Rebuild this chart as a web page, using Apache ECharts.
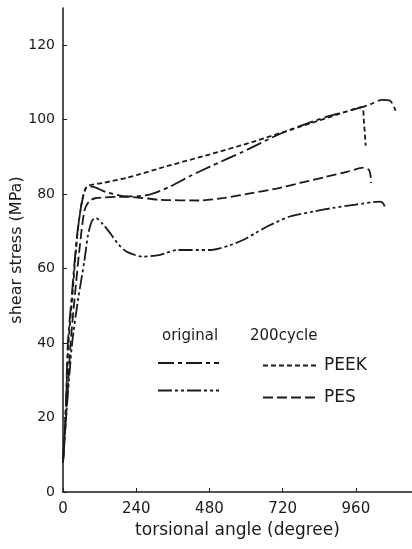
<!DOCTYPE html>
<html>
<head>
<meta charset="utf-8">
<style>
  html, body { margin: 0; padding: 0; background: #fff; }
  #chart { width: 412px; height: 549px; }
</style>
<script src="https://cdn.jsdelivr.net/npm/echarts@6/dist/echarts.min.js"></script>
</head>
<body>
<div id="chart"></div>
<script>
// torsional angle (degree), shear stress (MPa)
const origPEEK = [[0,8],[8,20],[16,40],[28,52],[45,68],[60,77],[75,81.5],[95,82],[140,80.6],[210,79.4],[280,79.8],[350,82],[420,85],[482,87.4],[590,91.4],[720,96.5],[865,100.8],[930,102.2],[1000,103.9],[1046,105.3],[1072,105.1],[1085,103.5],[1090,102.3]];
const origPES = [[0,8],[10,20],[30,40],[50,52],[70,62],[82,69],[95,72.8],[108,73.6],[130,72],[154,69.6],[182,66.5],[210,64.5],[262,63.2],[318,63.7],[374,65],[482,65],[545,66.2],[590,67.7],[630,69.5],[669,71.3],[744,74],[820,75.3],[885,76.3],[960,77.2],[1039,78],[1050,77.5],[1056,76.3]];
const cycPEEK = [[0,8],[8,20],[18,40],[30,52],[48,70],[62,78],[78,82],[130,83],[210,84.4],[340,87.5],[482,90.7],[620,94],[777,98.1],[930,102.2],[980,103.4],[986,100],[992,93]];
const cycPES = [[0,8],[10,20],[25,40],[38,52],[55,66],[70,75.5],[85,78],[105,78.9],[210,79.3],[318,78.5],[449,78.3],[530,79],[613,80.2],[700,81.5],[777,83],[860,84.6],[931,86],[985,87.1],[1003,86.5],[1008,85],[1010,83]];

const xTicks = [0, 240, 480, 720, 960];
const yTicks = [0, 20, 40, 60, 80, 100, 120];

const FONT = 'DejaVu Sans';
const INK = '#1a1a1a';

function lineSeries(name, data, dash) {
    return {
        name: name,
        type: 'line',
        data: data,
        smooth: 0.25,
        symbol: 'none',
        lineStyle: { color: INK, width: 1.8, type: dash },
        itemStyle: { color: INK }
    };
}

const chart = echarts.init(document.getElementById('chart'));

chart.setOption({
    backgroundColor: '#fff',
    animation: false,
    grid: { left: 63, right: 0, top: 8, bottom: 57, outerBoundsMode: 'none', containLabel: false },
    xAxis: {
        type: 'value',
        min: 0,
        max: 1144,
        name: 'torsional angle (degree)',
        nameLocation: 'middle',
        nameGap: 26,
        nameTextStyle: { fontFamily: FONT, fontSize: 17, color: INK },
        axisLine: { lineStyle: { color: INK, width: 1.5 } },
        axisTick: { inside: true, length: 4, customValues: xTicks, lineStyle: { color: INK } },
        axisLabel: { customValues: xTicks, fontFamily: FONT, fontSize: 15, color: INK, margin: 10 },
        splitLine: { show: false }
    },
    yAxis: {
        type: 'value',
        min: 0,
        max: 130,
        name: 'shear stress (MPa)',
        nameLocation: 'middle',
        nameGap: 38,
        nameMoveOverlap: false,
        nameTextStyle: { fontFamily: FONT, fontSize: 16, color: INK },
        axisLine: { show: true, lineStyle: { color: INK, width: 1.5 } },
        axisTick: { show: true, inside: true, length: 4, customValues: yTicks, lineStyle: { color: INK } },
        axisLabel: { customValues: yTicks, fontFamily: FONT, fontSize: 14, color: INK, margin: 8 },
        splitLine: { show: false }
    },
    legend: [
        {
            data: ['original PEEK', 'original PES'],
            orient: 'vertical',
            left: 157,
            top: 356,
            padding: 0,
            itemWidth: 61,
            itemHeight: 14,
            itemGap: 15,
            selectedMode: false,
            itemStyle: { opacity: 0 },
            formatter: () => ''
        },
        {
            data: ['200cycle PEEK', '200cycle PES'],
            orient: 'vertical',
            left: 262,
            top: 357,
            padding: 0,
            itemWidth: 56,
            itemHeight: 14,
            itemGap: 15,
            selectedMode: false,
            itemStyle: { opacity: 0 },
            formatter: name => name.split(' ')[1],
            textStyle: { fontFamily: FONT, fontSize: 17, color: INK }
        }
    ],
    graphic: [
        { type: 'text', left: 162, top: 329, style: { text: 'original', font: '15px "DejaVu Sans"', fill: INK } },
        { type: 'text', left: 250, top: 329, style: { text: '200cycle', font: '15px "DejaVu Sans"', fill: INK } }
    ],
    series: [
        lineSeries('original PEEK', origPEEK, [16, 4, 4, 4]),
        lineSeries('original PES', origPES, [14, 3, 3, 3, 3, 3]),
        lineSeries('200cycle PEEK', cycPEEK, [5, 3]),
        lineSeries('200cycle PES', cycPES, [10, 4])
    ]
});
</script>
</body>
</html>
